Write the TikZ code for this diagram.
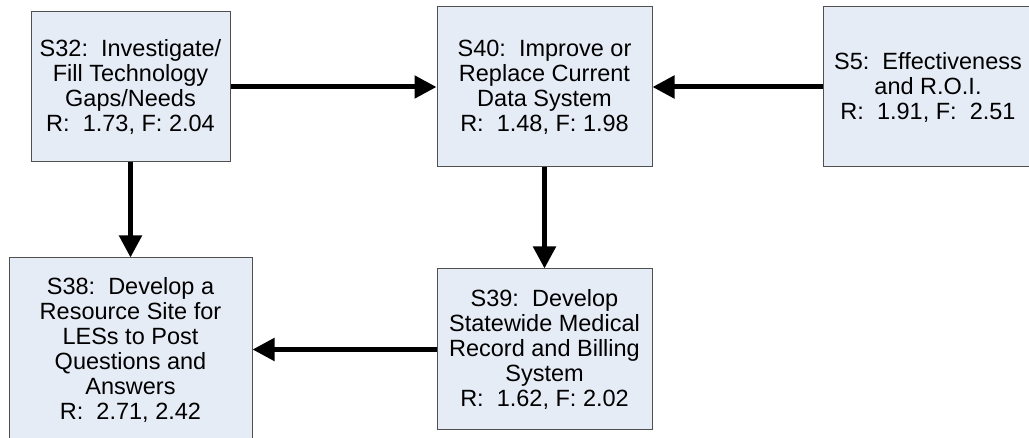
\documentclass[tikz,border=0pt]{standalone}
\usepackage{fontspec}
\setmainfont{Liberation Sans}
\usetikzlibrary{arrows.meta}
\definecolor{boxfill}{RGB}{230,236,246}
\definecolor{boxline}{RGB}{80,80,80}
\tikzset{
  stepbox/.style={draw=boxline, line width=1pt, fill=boxfill, inner sep=0pt,
    align=center, font=\fontsize{23.5}{25}\selectfont},
  flow/.style={line width=5pt, -{Triangle[length=22pt,width=22pt]}}
}
\begin{document}
\begin{tikzpicture}[x=1pt,y=-1pt]
\useasboundingbox (0,0) rectangle (1029,438);
\clip (0,0) rectangle (1029,438);
\node[stepbox, minimum width=199pt, minimum height=150pt] (s32) at (130.5,87)
  {S32:\ \ Investigate/\\Fill Technology\\Gaps/Needs\\R:\ \ 1.73, F: 2.04};
\node[stepbox, minimum width=215pt, minimum height=160pt] (s40) at (544.5,87)
  {S40:\ \ Improve or\\Replace Current\\Data System\\R:\ \ 1.48, F: 1.98};
\node[stepbox, minimum width=210pt, minimum height=160pt] (s5) at (928,87)
  {S5:\ \ Effectiveness\\and R.O.I.\\R:\ \ 1.91, F:\ \ 2.51};
\node[stepbox, minimum width=243pt, minimum height=183pt] (s38) at (130.5,349.5)
  {S38:\ \ Develop a\\Resource Site for\\LESs to Post\\Questions and\\Answers\\R:\ \ 2.71, 2.42};
\node[stepbox, minimum width=215pt, minimum height=161pt] (s39) at (544.5,349.5)
  {S39:\ \ Develop\\Statewide Medical\\Record and Billing\\System\\R:\ \ 1.62, F: 2.02};
\draw[flow] (s32) -- (s40);
\draw[flow] (s5) -- (s40);
\draw[flow] (s32) -- (s38);
\draw[flow] (s40) -- (s39);
\draw[flow] (s39) -- (s38);
\end{tikzpicture}
\end{document}
